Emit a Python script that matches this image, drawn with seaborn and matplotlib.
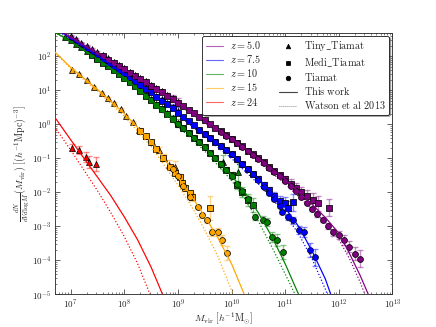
import numpy as np
import pandas as pd
import seaborn as sns
import matplotlib
matplotlib.use('Agg')
import matplotlib.pyplot as plt
from matplotlib.lines import Line2D
from matplotlib.ticker import FuncFormatter, LogLocator, NullFormatter

# all values are log10(M) and log10(dN/dVdlogM)
z_labels = ['5.0', '7.5', '10', '15', '24']
z_colors = ['purple', 'blue', 'green', 'orange', 'red']
x_tick_exp = [7, 8, 9, 10, 11, 12, 13]
y_tick_exp = [-5, -4, -3, -2, -1, 0, 1, 2]

# "This work" fits
fit_m_z5 = [6.7, 7.0, 7.5, 8.0, 8.5, 9.0, 9.5, 10.0, 10.5, 11.0, 11.5, 11.75, 12.0, 12.2, 12.4, 12.55, 12.6]
fit_y_z5 = [2.86, 2.57, 2.10, 1.62, 1.14, 0.64, 0.12, -0.42, -1.0, -1.62, -2.35, -2.74, -3.2, -3.8, -4.45, -5.0, -5.2]
fit_m_z75 = [6.7, 7.0, 7.5, 8.0, 8.5, 9.0, 9.5, 10.0, 10.5, 10.75, 11.0, 11.25, 11.5, 11.75, 11.85, 11.9]
fit_y_z75 = [2.84, 2.54, 2.03, 1.5, 0.94, 0.35, -0.27, -0.88, -1.6, -2.0, -2.45, -3.0, -3.72, -4.55, -5.0, -5.2]
fit_m_z10 = [6.7, 7.0, 7.5, 8.0, 8.5, 9.0, 9.5, 10.0, 10.25, 10.5, 10.75, 11.0, 11.25, 11.3]
fit_y_z10 = [2.72, 2.45, 1.93, 1.38, 0.72, 0.02, -0.66, -1.5, -2.0, -2.6, -3.3, -4.1, -5.0, -5.2]
fit_m_z15 = [6.7, 7.0, 7.5, 8.0, 8.5, 9.0, 9.25, 9.5, 9.75, 10.0, 10.25, 10.3]
fit_y_z15 = [2.14, 1.68, 1.03, 0.32, -0.5, -1.55, -2.1, -2.7, -3.35, -4.1, -5.05, -5.25]
fit_m_z24 = [6.7, 7.0, 7.25, 7.5, 7.75, 8.0, 8.25, 8.5, 8.7, 8.75]
fit_y_z24 = [0.22, -0.45, -1.0, -1.55, -2.1, -2.72, -3.4, -4.2, -4.95, -5.15]

# Watson et al 2013
wat_m_z5 = [6.7, 7.0, 7.5, 8.0, 8.5, 9.0, 9.5, 10.0, 10.5, 11.0, 11.5, 11.75, 12.0, 12.2, 12.4, 12.5, 12.55]
wat_y_z5 = [2.85, 2.56, 2.08, 1.59, 1.10, 0.58, 0.05, -0.50, -1.10, -1.75, -2.50, -2.90, -3.38, -3.95, -4.65, -5.05, -5.25]
wat_m_z75 = [6.7, 7.0, 7.5, 8.0, 8.5, 9.0, 9.5, 10.0, 10.5, 10.75, 11.0, 11.25, 11.5, 11.75, 11.8, 11.85]
wat_y_z75 = [2.83, 2.52, 2.0, 1.46, 0.89, 0.28, -0.36, -1.0, -1.75, -2.17, -2.65, -3.22, -3.95, -4.85, -5.05, -5.25]
wat_m_z10 = [6.7, 7.0, 7.5, 8.0, 8.5, 9.0, 9.5, 10.0, 10.25, 10.5, 10.75, 11.0, 11.2, 11.25]
wat_y_z10 = [2.71, 2.43, 1.9, 1.33, 0.66, -0.06, -0.78, -1.65, -2.2, -2.85, -3.6, -4.4, -5.05, -5.25]
wat_m_z15 = [6.7, 7.0, 7.5, 8.0, 8.5, 9.0, 9.25, 9.5, 9.75, 10.0, 10.1]
wat_y_z15 = [2.12, 1.65, 0.98, 0.24, -0.65, -1.78, -2.4, -3.1, -3.9, -4.88, -5.3]
wat_m_z24 = [6.7, 7.0, 7.25, 7.5, 7.75, 8.0, 8.25, 8.48, 8.55]
wat_y_z24 = [-0.07, -0.75, -1.35, -1.95, -2.6, -3.3, -4.1, -5.0, -5.3]

# Tiny_Tiamat
tiny_m_z5 = [7.0, 7.1, 7.2, 7.3, 7.4, 7.5, 7.6, 7.7, 7.8, 7.9, 8.0, 8.1, 8.2, 8.3, 8.4, 8.5, 8.6, 8.7, 8.8, 8.9, 9.0]
tiny_y_z5 = [2.60, 2.51, 2.41, 2.32, 2.22, 2.13, 2.03, 1.94, 1.84, 1.75, 1.65, 1.55, 1.46, 1.36, 1.27, 1.17, 1.07, 0.97, 0.86, 0.77, 0.66]
tiny_e_z5 = [0.02] * 16 + [0.04, 0.05, 0.07, 0.09, 0.12]
tiny_m_z75 = [7.0, 7.1, 7.2, 7.3, 7.4, 7.5, 7.6, 7.7, 7.8, 7.9, 8.0, 8.1, 8.2, 8.3, 8.4, 8.5, 8.6, 8.7, 8.8, 8.9, 9.0]
tiny_y_z75 = [2.57, 2.47, 2.37, 2.26, 2.16, 2.06, 1.95, 1.85, 1.74, 1.64, 1.53, 1.42, 1.31, 1.19, 1.08, 0.97, 0.85, 0.74, 0.62, 0.52, 0.40]
tiny_e_z75 = [0.02] * 16 + [0.04, 0.05, 0.07, 0.09, 0.12]
tiny_m_z10 = [6.9, 7.0, 7.1, 7.2, 7.3, 7.4, 7.5, 7.6, 7.7, 7.8, 7.9, 8.0, 8.1, 8.2, 8.3, 8.4, 8.5, 8.6, 8.7, 8.8, 8.9, 9.0, 9.85, 10.13]
tiny_y_z10 = [2.57, 2.48, 2.38, 2.27, 2.17, 2.06, 1.96, 1.85, 1.74, 1.63, 1.52, 1.41, 1.28, 1.15, 1.02, 0.88, 0.75, 0.61, 0.47, 0.33, 0.19, 0.05, -1.11, -1.40]
tiny_e_z10 = [0.02] * 17 + [0.04, 0.05, 0.07, 0.09, 0.12, 0.2, 0.3]
tiny_m_z15 = [7.03, 7.16, 7.3, 7.44, 7.58, 7.7, 7.81, 7.93, 8.03, 8.16, 8.28, 8.4, 8.52, 8.65, 8.74, 8.84, 8.95]
tiny_y_z15 = [1.61, 1.47, 1.30, 1.11, 0.93, 0.77, 0.63, 0.45, 0.25, 0.07, -0.15, -0.33, -0.52, -0.75, -0.98, -1.19, -1.25]
tiny_e_z15 = [0.03] * 11 + [0.05, 0.06, 0.08, 0.1, 0.13, 0.18]
tiny_m_z24 = [7.03, 7.16, 7.29, 7.35, 7.48]
tiny_y_z24 = [-0.69, -0.75, -0.96, -1.11, -1.17]
tiny_e_z24 = [0.1, 0.12, 0.15, 0.18, 0.2]

# Medi_Tiamat
medi_m_z5 = [7.6, 7.7, 7.8, 7.9, 8.0, 8.1, 8.2, 8.3, 8.4, 8.5, 8.6, 8.7, 8.8, 8.9, 9.0, 9.1, 9.2, 9.3, 9.4, 9.5,
             9.6, 9.7, 9.8, 9.9, 10.0, 10.1, 10.2, 10.3, 10.4, 10.5, 10.6, 10.7, 10.8, 10.9, 11.0,
             11.1, 11.2, 11.3, 11.4, 11.52, 11.62, 11.82]
medi_y_z5 = [2.00, 1.91, 1.81, 1.72, 1.62, 1.52, 1.43, 1.33, 1.24, 1.14, 1.04, 0.94, 0.84, 0.74, 0.64, 0.54, 0.43, 0.33, 0.22, 0.12,
             0.01, -0.10, -0.20, -0.31, -0.42, -0.54, -0.65, -0.77, -0.88, -1.00, -1.12, -1.25, -1.37, -1.50, -1.62,
             -1.74, -1.86, -2.00, -2.12, -2.23, -2.32, -2.46]
medi_e_z5 = [0.02] * 30 + [0.04, 0.05, 0.06, 0.08, 0.1, 0.12, 0.14, 0.16, 0.18, 0.2, 0.22, 0.25]
medi_m_z75 = [7.6, 7.7, 7.8, 7.9, 8.0, 8.1, 8.2, 8.3, 8.4, 8.5, 8.6, 8.7, 8.8, 8.9, 9.0, 9.1, 9.2, 9.3, 9.4, 9.5,
              9.6, 9.7, 9.8, 9.9, 10.0, 10.1, 10.2, 10.3, 10.4, 10.5, 10.6, 10.7, 10.8, 10.9, 11.0, 11.05, 11.15]
medi_y_z75 = [1.92, 1.82, 1.71, 1.61, 1.50, 1.39, 1.28, 1.16, 1.05, 0.94, 0.82, 0.70, 0.59, 0.47, 0.35, 0.23, 0.10, -0.02, -0.15, -0.27,
              -0.39, -0.51, -0.64, -0.76, -0.88, -1.02, -1.16, -1.31, -1.45, -1.60, -1.77, -1.94, -2.11, -2.25, -2.32, -2.46, -2.29]
medi_e_z75 = [0.02] * 26 + [0.04, 0.05, 0.06, 0.07, 0.08, 0.1, 0.12, 0.15, 0.18, 0.2, 0.25]
medi_m_z10 = [7.4, 7.5, 7.6, 7.7, 7.8, 7.9, 8.0, 8.1, 8.2, 8.3, 8.4, 8.5, 8.6, 8.7, 8.8, 8.9, 9.0, 9.1, 9.2, 9.3,
              9.4, 9.5, 9.6, 9.7, 9.8, 9.9, 10.0, 10.1, 10.2, 10.3, 10.4]
medi_y_z10 = [2.03, 1.93, 1.82, 1.71, 1.60, 1.49, 1.38, 1.25, 1.12, 0.99, 0.85, 0.72, 0.58, 0.44, 0.30, 0.16, 0.02, -0.12, -0.26, -0.39,
              -0.53, -0.66, -0.83, -0.99, -1.16, -1.33, -1.50, -1.78, -1.99, -2.23, -2.37]
medi_e_z10 = [0.02] * 20 + [0.03, 0.04, 0.05, 0.06, 0.07, 0.08, 0.1, 0.12, 0.15, 0.18, 0.2]
medi_m_z15 = [8.3, 8.4, 8.5, 8.6, 8.72, 8.85, 8.95, 9.04, 9.08, 9.14, 9.23, 9.27, 9.6]
medi_y_z15 = [-0.18, -0.35, -0.52, -0.72, -1.0, -1.25, -1.42, -1.55, -1.73, -1.87, -2.02, -2.14, -2.46]
medi_e_z15 = [0.03] * 5 + [0.04, 0.05, 0.06, 0.07, 0.08, 0.1, 0.12, 0.35]

# Tiamat
tia_m_z5 = [9.8, 9.9, 10.0, 10.1, 10.2, 10.3, 10.4, 10.5, 10.6, 10.7, 10.8, 10.9, 11.0, 11.1,
            11.2, 11.3, 11.4, 11.5, 11.6, 11.7, 11.8, 11.9, 12.0, 12.1, 12.2, 12.3, 12.4]
tia_y_z5 = [-0.22, -0.33, -0.44, -0.56, -0.67, -0.79, -0.90, -1.02, -1.14, -1.27, -1.40, -1.53, -1.66, -1.80,
            -1.95, -2.15, -2.30, -2.50, -2.65, -2.80, -3.00, -3.17, -3.25, -3.40, -3.60, -3.80, -3.95]
tia_e_z5 = [0.02] * 14 + [0.03, 0.04, 0.05, 0.06, 0.07, 0.08, 0.09, 0.1, 0.12, 0.14, 0.16, 0.2, 0.25]
tia_m_z75 = [9.4, 9.5, 9.6, 9.7, 9.8, 9.9, 10.0, 10.1, 10.2, 10.3, 10.4, 10.5, 10.6, 10.7, 10.8, 10.9,
             10.95, 11.05, 11.15, 11.25, 11.35, 11.47, 11.56]
tia_y_z75 = [-0.15, -0.27, -0.39, -0.51, -0.64, -0.76, -0.88, -1.02, -1.16, -1.31, -1.45, -1.65, -1.85, -2.03, -2.20, -2.40,
             -2.58, -2.73, -2.82, -3.11, -3.17, -3.70, -3.91]
tia_e_z75 = [0.02] * 12 + [0.03, 0.04, 0.05, 0.06, 0.07, 0.08, 0.1, 0.12, 0.15, 0.2, 0.25]
tia_m_z10 = [9.0, 9.1, 9.2, 9.3, 9.4, 9.5, 9.6, 9.7, 9.8, 9.9,
             10.0, 10.1, 10.2, 10.3, 10.44, 10.58, 10.66, 10.76, 10.85, 10.96]
tia_y_z10 = [0.02, -0.12, -0.26, -0.39, -0.53, -0.66, -0.83, -0.99, -1.16, -1.33,
             -1.52, -1.76, -1.97, -2.2, -2.73, -2.8, -2.88, -3.32, -3.41, -3.76]
tia_e_z10 = [0.02] * 8 + [0.03, 0.04, 0.05, 0.06, 0.07, 0.08, 0.09, 0.1, 0.12, 0.14, 0.17, 0.2]
tia_m_z15 = [8.9, 9.0, 9.1, 9.23, 9.38, 9.45, 9.55, 9.64, 9.75, 9.83, 9.92]
tia_y_z15 = [-1.32, -1.52, -1.8, -2.15, -2.43, -2.67, -2.82, -3.17, -3.17, -3.41, -3.79]
tia_e_z15 = [0.03, 0.03, 0.04, 0.05, 0.06, 0.07, 0.08, 0.1, 0.12, 0.15, 0.2]

fits = [(fit_m_z5, fit_y_z5), (fit_m_z75, fit_y_z75), (fit_m_z10, fit_y_z10),
        (fit_m_z15, fit_y_z15), (fit_m_z24, fit_y_z24)]
watson = [(wat_m_z5, wat_y_z5), (wat_m_z75, wat_y_z75), (wat_m_z10, wat_y_z10),
          (wat_m_z15, wat_y_z15), (wat_m_z24, wat_y_z24)]
tiny = [(tiny_m_z5, tiny_y_z5, tiny_e_z5), (tiny_m_z75, tiny_y_z75, tiny_e_z75),
        (tiny_m_z10, tiny_y_z10, tiny_e_z10), (tiny_m_z15, tiny_y_z15, tiny_e_z15),
        (tiny_m_z24, tiny_y_z24, tiny_e_z24)]
medi = [(medi_m_z5, medi_y_z5, medi_e_z5), (medi_m_z75, medi_y_z75, medi_e_z75),
        (medi_m_z10, medi_y_z10, medi_e_z10), (medi_m_z15, medi_y_z15, medi_e_z15), None]
tiamat = [(tia_m_z5, tia_y_z5, tia_e_z5), (tia_m_z75, tia_y_z75, tia_e_z75),
          (tia_m_z10, tia_y_z10, tia_e_z10), (tia_m_z15, tia_y_z15, tia_e_z15), None]

sns.set_theme(style='ticks')
plt.rcParams['font.family'] = ['DejaVu Serif']
plt.rcParams['mathtext.fontset'] = 'cm'
plt.rcParams['xtick.direction'] = 'in'
plt.rcParams['ytick.direction'] = 'in'

fig = plt.figure(figsize=(8, 6), dpi=54.5)
ax = fig.add_axes([0.125, 0.1, 0.775, 0.8])


def draw_points(ax, data, marker, color):
    m, y, e = data
    m = np.array(m); y = np.array(y); e = np.array(e)
    val = 10 ** y
    lo = val - 10 ** (y - e)
    hi = 10 ** (y + e) - val
    ax.errorbar(10 ** m, val, yerr=[lo, hi], fmt='none', ecolor=color, alpha=0.45,
                elinewidth=1.8, capsize=3.5, capthick=1.8, zorder=2)
    sns.scatterplot(x=10 ** m, y=val, marker=marker, color=color, edgecolor='black',
                    linewidth=1.0, s=60, ax=ax, zorder=3, legend=False)


for i in range(4, -1, -1):
    c = z_colors[i]
    fm, fy = fits[i]
    sns.lineplot(x=10 ** np.array(fm), y=10 ** np.array(fy), color=c, lw=1.6,
                 ax=ax, estimator=None, sort=False, zorder=4)
    wm, wy = watson[i]
    sns.lineplot(x=10 ** np.array(wm), y=10 ** np.array(wy), color=c, lw=1.6,
                 linestyle=':', ax=ax, estimator=None, sort=False, zorder=4)
    draw_points(ax, tiny[i], '^', c)
    if medi[i] is not None:
        draw_points(ax, medi[i], 's', c)
    if tiamat[i] is not None:
        draw_points(ax, tiamat[i], 'o', c)

ax.set_xscale('log')
ax.set_yscale('log')
ax.set_xlim(5e6, 1e13)
ax.set_ylim(1e-5, 500)

fmt = FuncFormatter(lambda v, p: r'$10^{%d}$' % int(round(np.log10(v))))
ax.set_xticks([10.0 ** k for k in x_tick_exp])
ax.set_yticks([10.0 ** k for k in y_tick_exp])
ax.xaxis.set_major_formatter(fmt)
ax.yaxis.set_major_formatter(fmt)
ax.xaxis.set_minor_locator(LogLocator(base=10, subs=np.arange(2, 10), numticks=20))
ax.yaxis.set_minor_locator(LogLocator(base=10, subs=np.arange(2, 10), numticks=20))
ax.xaxis.set_minor_formatter(NullFormatter())
ax.yaxis.set_minor_formatter(NullFormatter())
ax.set_xlim(5e6, 1e13)
ax.set_ylim(1e-5, 500)
ax.tick_params(which='both', top=True, right=True, direction='in', labelsize=12,
               color='#333333', pad=4)
ax.tick_params(which='major', length=6, width=1)
ax.tick_params(which='minor', length=3, width=0.8)
for sp in ax.spines.values():
    sp.set_color('#333333')
    sp.set_linewidth(1.2)

ax.set_xlabel(r'$M_{\rm vir}\ [h^{-1}{\rm M}_{\odot}]$', fontsize=13, labelpad=0)
ax.set_ylabel(r'$\frac{dN}{dVd\log M}(M_{\rm vir})\ [(h^{-1}{\rm Mpc})^{-3}]$', fontsize=13,
              labelpad=1)

handles = [Line2D([], [], color=c, lw=1.5, alpha=0.6) for c in z_colors]
labels = [r'$z=%s$' % z for z in z_labels]
handles += [Line2D([], [], color='black', marker='^', ls='none', ms=6),
            Line2D([], [], color='black', marker='s', ls='none', ms=6),
            Line2D([], [], color='black', marker='o', ls='none', ms=6),
            Line2D([], [], color='#444444', lw=1.5),
            Line2D([], [], color='#444444', lw=1, ls=':')]
labels += [r'$\rm Tiny\_Tiamat$', r'$\rm Medi\_Tiamat$', r'$\rm Tiamat$',
           r'$\rm This\ work$', r'$\rm Watson\ et\ al\ 2013$']
leg = ax.legend(handles, labels, ncol=2, loc='upper right', fontsize=13.5, frameon=True,
                shadow=True, fancybox=True, borderaxespad=0.3, handlelength=1.7,
                columnspacing=1.8, labelspacing=0.2, borderpad=0.35, handletextpad=0.7)
leg.get_frame().set_edgecolor('black')
leg.get_frame().set_alpha(1)

fig.savefig('out.png', dpi=54.5)
